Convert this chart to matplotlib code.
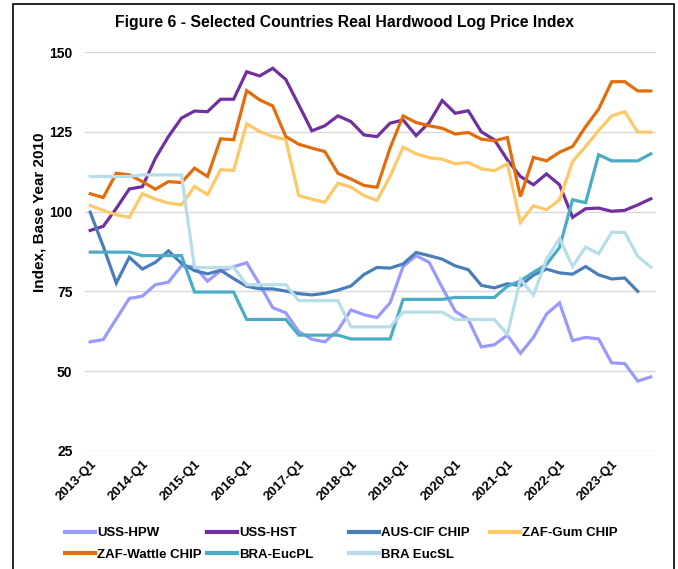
import numpy as np
import matplotlib
matplotlib.use("Agg")
import matplotlib.pyplot as plt
from matplotlib.patches import Rectangle

plt.rcParams['font.family'] = ['Liberation Sans', 'DejaVu Sans']

# quarterly categories 2013-Q1 .. 2023-Q4
quarters = [f"{y}-Q{q}" for y in range(2013, 2024) for q in range(1, 5)]

uss_hpw = [59.2, 59.9, 66.4, 72.8, 73.5, 77.1, 77.9, 83.0, 82.7, 78.2, 81.5,
           82.7, 84.0, 77.2, 69.9, 68.3, 62.4, 60.0, 59.2, 62.8, 69.2, 67.7,
           66.8, 71.4, 82.8, 86.2, 84.1, 76.2, 68.8, 66.2, 57.6, 58.3, 61.3,
           55.6, 60.6, 67.9, 71.4, 59.6, 60.6, 60.1, 52.6, 52.4, 46.9, 48.2]
uss_hst = [94.1, 95.4, 101.0, 107.1, 107.8, 116.7, 123.5, 129.3, 131.5, 131.3,
           135.2, 135.2, 143.8, 142.5, 144.9, 141.4, 133.4, 125.3, 126.9, 130.0,
           128.2, 124.0, 123.5, 127.7, 128.7, 123.8, 127.9, 134.8, 130.8, 131.6,
           125.0, 122.5, 116.2, 111.0, 108.4, 111.8, 108.4, 98.2, 100.9, 101.1,
           100.1, 100.4, 102.1, 104.0]
aus_cif = [99.8, 89.1, 77.6, 85.7, 82.0, 84.1, 87.7, 83.8, 81.5, 80.5, 81.6,
           79.0, 76.6, 75.8, 75.8, 75.1, 74.3, 73.9, 74.4, 75.4, 76.7, 80.3,
           82.5, 82.3, 83.6, 87.2, 86.2, 85.1, 83.0, 81.8, 76.9, 76.1, 77.4,
           76.8, 80.1, 82.0, 80.8, 80.4, 82.8, 80.2, 78.9, 79.2, 75.0, np.nan]
zaf_gum = [101.9, 100.4, 99.0, 98.2, 105.6, 103.9, 102.7, 102.1, 107.9, 105.3,
           113.1, 112.9, 127.5, 125.1, 123.5, 122.5, 105.0, 103.9, 102.9, 108.9,
           107.7, 105.0, 103.5, 111.0, 120.2, 118.1, 116.9, 116.4, 115.0, 115.4,
           113.4, 112.8, 115.0, 96.6, 101.8, 100.6, 103.7, 115.7, 120.4, 125.4,
           130.0, 131.3, 124.9, 124.9]
zaf_wattle = [105.6, 104.4, 112.0, 111.5, 109.4, 107.0, 109.4, 109.1, 113.6,
              111.0, 122.8, 122.5, 137.9, 135.0, 133.1, 123.5, 121.1, 119.9,
              118.8, 112.0, 110.2, 108.2, 107.6, 119.9, 130.0, 127.9, 126.9,
              126.1, 124.3, 124.8, 122.7, 122.2, 123.2, 104.7, 117.0, 115.9,
              118.6, 120.4, 126.6, 132.1, 140.7, 140.7, 137.8, 137.8]
bra_eucpl = [87.3, 87.3, 87.3, 87.3, 86.2, 86.2, 86.2, 86.2, 74.8, 74.8, 74.8,
             74.8, 66.2, 66.2, 66.2, 66.2, 61.3, 61.3, 61.3, 61.3, 60.1, 60.1,
             60.1, 60.1, 72.5, 72.5, 72.5, 72.5, 73.1, 73.1, 73.1, 73.1, 76.6,
             78.3, 81.0, 83.4, 88.8, 103.7, 102.8, 117.8, 115.9, 115.9, 115.9, 118.1]
bra_eucsl = [111.0, 111.0, 111.0, 111.0, 111.5, 111.5, 111.5, 111.5, 82.5, 82.5,
             82.5, 82.5, 77.1, 77.1, 77.1, 77.1, 72.1, 72.1, 72.1, 72.1, 63.9,
             63.9, 63.9, 63.9, 68.5, 68.5, 68.5, 68.5, 66.2, 66.2, 66.2, 66.2,
             61.5, 78.8, 73.8, 85.1, 91.6, 82.8, 88.9, 86.8, 93.5, 93.5, 86.0, 82.6]

series_names = ['USS-HPW', 'USS-HST', 'AUS-CIF CHIP', 'ZAF-Gum CHIP',
                'ZAF-Wattle CHIP', 'BRA-EucPL', 'BRA EucSL']
series_data = [uss_hpw, uss_hst, aus_cif, zaf_gum, zaf_wattle, bra_eucpl, bra_eucsl]
series_colors = ['#9999FF', '#7030A0', '#4A7EBB', '#FFC866',
                 '#E46C0A', '#4BACC6', '#B7DEE8']
yticks = [25, 50, 75, 100, 125, 150]

fig = plt.figure(figsize=(6.78, 5.69), dpi=100)
ax = fig.add_axes([85 / 678, 1 - 451 / 569, 571 / 678, 399 / 569])

x = np.arange(len(quarters))
lines = []
for name, vals, col in zip(series_names, series_data, series_colors):
    ln, = ax.plot(x, vals, color=col, lw=2.3, label=name, solid_joinstyle='miter')
    lines.append(ln)

ax.set_xlim(-0.4, len(quarters) - 0.6)
ax.set_ylim(25, 150)
ax.set_yticks(yticks)
ax.grid(axis='y', color='#D9D9D9', lw=1)
ax.set_axisbelow(True)
for s in ax.spines.values():
    s.set_visible(False)

ax.tick_params(axis='both', length=0)
ax.tick_params(axis='y', pad=9, labelsize=10)
ax.set_yticklabels([str(v) for v in yticks], fontweight='bold')
ax.set_xticks(x[::4])
ax.set_xticklabels(quarters[::4], rotation=45, ha='right', va='top',
                   rotation_mode='anchor', fontsize=9.5, fontweight='bold')
ax.tick_params(axis='x', pad=5)

fig.text(344 / 678, 1 - 22 / 569, 'Figure 6 - Selected Countries Real Hardwood Log Price Index',
         ha='center', va='center', fontsize=11.3, fontweight='bold')
fig.text(40 / 678, 1 - 212 / 569, 'Index, Base Year 2010', rotation=90,
         ha='center', va='center', fontsize=11, fontweight='bold')

# legend laid out in 4 fixed-width columns, like the source
col_x = [65, 207, 349, 490]
col_items = [[0, 4], [1, 5], [2, 6], [3]]
for cx, idx in zip(col_x, col_items):
    leg = fig.legend([lines[i] for i in idx], [series_names[i] for i in idx],
                     loc='upper left', bbox_to_anchor=(cx / 678, 1 - 527 / 569),
                     frameon=False, borderpad=0, borderaxespad=0,
                     handlelength=2.3, handletextpad=0.15, labelspacing=0.7,
                     prop={'weight': 'bold', 'size': 9.5})
    for h in leg.legend_handles:
        h.set_linewidth(3)

# outer frame of the figure
fig.add_artist(Rectangle((13 / 678, -0.05), (674 - 13) / 678, 1.05 - 4 / 569,
                         transform=fig.transFigure, fill=False, ec='black', lw=1.2))

fig.savefig('out.png', dpi=100)
